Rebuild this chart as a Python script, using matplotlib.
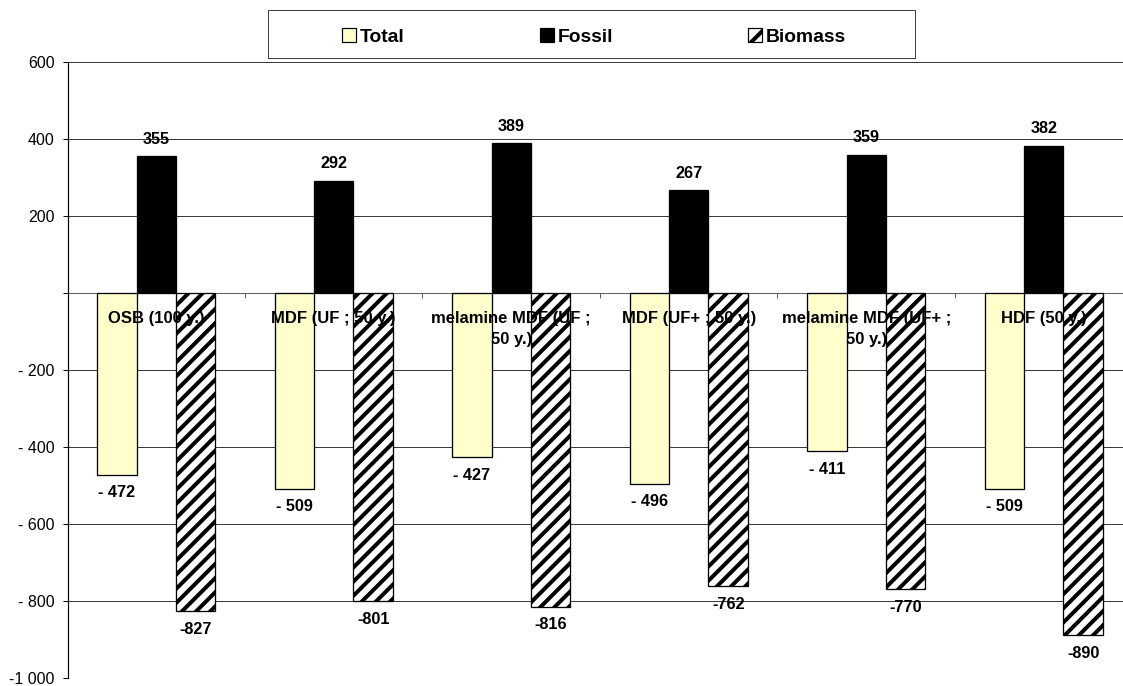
import matplotlib
matplotlib.use("Agg")
import matplotlib.pyplot as plt
from matplotlib.patches import Patch, Rectangle

# Net emissions per panel type
categories = [
    "OSB (100 y.)",
    "MDF (UF ; 50 y.)",
    "melamine MDF (UF ;\n50 y.)",
    "MDF (UF+ ; 50 y.)",
    "melamine MDF (UF+ ;\n50 y.)",
    "HDF (50 y.)",
]
total = [-472, -509, -427, -496, -411, -509]
fossil = [355, 292, 389, 267, 359, 382]
biomass = [-827, -801, -816, -762, -770, -890]

yticks = [600, 400, 200, 0, -200, -400, -600, -800, -1000]
yticklabels = ["600", "400", "200", "", "- 200", "- 400", "- 600", "- 800", "-1 000"]

DPI = 170
PX = 72.0 / DPI  # one pixel in points

plt.rcParams["font.family"] = ["Liberation Sans", "DejaVu Sans"]
plt.rcParams["hatch.linewidth"] = 4 * PX

fig = plt.figure(figsize=(1123 / DPI, 686 / DPI), dpi=DPI)
W, H = 1123.0, 686.0
ax = fig.add_axes([67.5 / W, 1 - 677.7 / H, 1065 / W, 615.7 / H])

bw = 0.2225
centers = [i + 0.5 for i in range(len(categories))]

ax.bar([c - bw for c in centers], total, bw, color="#FFFFCC", edgecolor="black",
       linewidth=1.3 * PX, zorder=3)
ax.bar(centers, fossil, bw, color="black", edgecolor="black",
       linewidth=1.3 * PX, zorder=3)
ax.bar([c + bw for c in centers], biomass, bw, color="white", edgecolor="black",
       hatch="////", linewidth=1.3 * PX, zorder=3)

# value labels
lab_kw = dict(textcoords="offset points", ha="center", va="center",
              fontsize=16.3 * PX, fontweight="bold", zorder=5)
for c, t, f, b in zip(centers, total, fossil, biomass):
    ax.annotate(f"{f}", (c, f), xytext=(0, 17 * PX), **lab_kw)
    ax.annotate(f"- {abs(t)}", (c - bw, t), xytext=(0, -18 * PX), **lab_kw)
    ax.annotate(f"-{abs(b)}", (c + bw, b), xytext=(0, -18 * PX), **lab_kw)

# category names just below the zero line
for c, name in zip(centers, categories):
    ax.annotate(name, (c, 0), xytext=(0, -18 * PX), textcoords="offset points",
                ha="center", va="top", multialignment="center", linespacing=1.55,
                fontsize=16.6 * PX, fontweight="bold", zorder=6)

ax.set_xlim(0, 6)
ax.set_ylim(-1000, 600)
ax.set_yticks(yticks)
ax.set_yticklabels(yticklabels, fontsize=16 * PX)
ax.set_xticks(range(1, 6))
ax.set_xticklabels([])

for y in yticks:
    if y != 0:
        ax.axhline(y, color="#3a3a3a", linewidth=1 * PX, zorder=1)

for side in ["top", "right"]:
    ax.spines[side].set_visible(False)
ax.spines["bottom"].set_position(("data", 0))
ax.spines["bottom"].set_color("#606060")
ax.spines["bottom"].set_linewidth(1 * PX)
ax.spines["bottom"].set_zorder(2)
ax.spines["left"].set_linewidth(1.2 * PX)
ax.tick_params(axis="y", direction="out", length=5 * PX, width=1 * PX, pad=8 * PX)
ax.tick_params(axis="x", direction="out", length=5 * PX, width=1 * PX, color="#606060")

# legend box across the top
fig.patches.append(Rectangle((268 / W, 1 - 58 / H), 647 / W, 48 / H,
                             transform=fig.transFigure, fill=False,
                             edgecolor="#404040", linewidth=1 * PX))
handles = [
    Patch(facecolor="#FFFFCC", edgecolor="black", linewidth=1.2 * PX, label="Total"),
    Patch(facecolor="black", edgecolor="black", linewidth=1.2 * PX, label="Fossil"),
    Patch(facecolor="white", edgecolor="black", hatch="///", linewidth=1.2 * PX, label="Biomass"),
]
fig.legend(handles=handles, loc="center", bbox_to_anchor=(594 / W, 1 - 37 / H),
           ncol=3, frameon=False, handlelength=0.73, handleheight=0.73,
           handletextpad=0.2, columnspacing=7.0,
           prop={"size": 19.3 * PX, "weight": "bold"})

fig.savefig("out.png", dpi=DPI)
